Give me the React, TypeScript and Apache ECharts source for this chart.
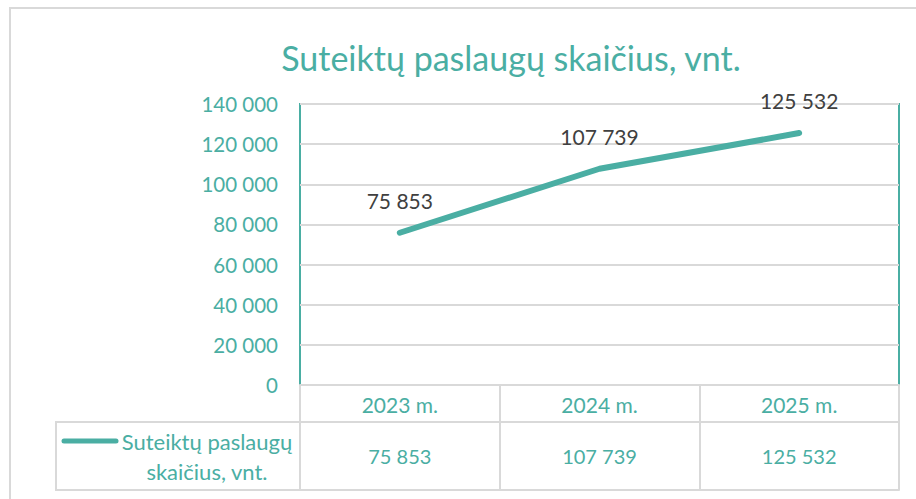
import React, { useEffect, useRef } from "react";
import * as echarts from "echarts";

const categories = ["2023 m.", "2024 m.", "2025 m."];
const values = [75853, 107739, 125532];
const seriesName = "Suteiktų paslaugų skaičius, vnt.";
const yMin = 0;
const yMax = 140000;
const yInterval = 20000;

const TEAL = "#4aaea3";
const GRID = "#d9d9d9";
const FONT = "Lato";

const fmt = (v: number) => String(v).replace(/\B(?=(\d{3})+(?!\d))/g, " ");

export default function App() {
  const ref = useRef<HTMLDivElement>(null);
  useEffect(() => {
    if (!ref.current) return;
    const chart = echarts.init(ref.current, undefined, { renderer: "svg" });
    chart.setOption({
      animation: false,
      backgroundColor: "#ffffff",
      textStyle: { fontFamily: FONT },
      title: {
        text: "Suteiktų paslaugų skaičius, vnt.",
        left: 511,
        top: 40,
        padding: 0,
        textAlign: "center",
        textStyle: { color: TEAL, fontSize: 34, fontWeight: "normal", fontFamily: FONT },
      },
      grid: {
        left: 300,
        right: 17,
        top: 104,
        bottom: 114,
        show: true,
        borderColor: TEAL,
        borderWidth: 2,
        backgroundColor: "transparent",
      },
      xAxis: [
        {
          type: "category",
          data: categories,
          boundaryGap: true,
          position: "bottom",
          axisLine: { show: true, lineStyle: { color: GRID, width: 2 } },
          axisTick: { show: true, length: 105, lineStyle: { color: GRID, width: 2 } },
          axisLabel: { color: TEAL, fontSize: 21, margin: 19, verticalAlign: "middle", fontFamily: FONT },
          splitLine: { show: false },
          z: 10,
        },
        {
          type: "category",
          data: values.map(fmt),
          boundaryGap: true,
          position: "bottom",
          offset: 37,
          axisLine: { show: true, lineStyle: { color: GRID, width: 2 } },
          axisTick: { show: false },
          axisLabel: { color: TEAL, fontSize: 20, margin: 34, verticalAlign: "middle", fontFamily: FONT },
          splitLine: { show: false },
        },
        {
          type: "category",
          data: categories,
          boundaryGap: true,
          position: "bottom",
          offset: 105,
          axisLine: { show: true, lineStyle: { color: GRID, width: 2 } },
          axisTick: { show: false },
          axisLabel: { show: false },
          splitLine: { show: false },
        },
      ],
      yAxis: {
        type: "value",
        min: yMin,
        max: yMax,
        interval: yInterval,
        axisLine: { show: false },
        axisTick: { show: false },
        axisLabel: { color: TEAL, fontSize: 20.5, margin: 22, formatter: (v: number) => fmt(v), fontFamily: FONT },
        splitLine: { show: true, lineStyle: { color: GRID, width: 2 } },
      },
      series: [
        {
          name: seriesName,
          type: "line",
          data: values,
          xAxisIndex: 0,
          showSymbol: true,
          symbol: "circle",
          symbolSize: 0,
          lineStyle: { color: TEAL, width: 6, cap: "round", join: "round" },
          itemStyle: { color: TEAL },
          label: {
            show: true,
            position: "top",
            distance: 22,
            color: "#404040",
            fontSize: 21,
            fontFamily: FONT,
            formatter: (p: any) => fmt(p.value),
          },
          z: 5,
        },
      ],
      graphic: [
        {
          type: "rect",
          shape: { x: 10, y: 8, width: 930, height: 520 },
          style: { fill: "none", stroke: GRID, lineWidth: 2 },
          silent: true,
          z: -10,
        },
        {
          type: "rect",
          shape: { x: 56, y: 422, width: 244, height: 68 },
          style: { fill: "none", stroke: GRID, lineWidth: 2 },
          silent: true,
        },
        {
          type: "line",
          shape: { x1: 64, y1: 441, x2: 116, y2: 441 },
          style: { stroke: TEAL, lineWidth: 5, lineCap: "round" },
          silent: true,
        },
        {
          type: "text",
          x: 207,
          y: 456,
          style: {
            text: "Suteiktų paslaugų\nskaičius, vnt.",
            fill: TEAL,
            fontSize: 22,
            fontFamily: FONT,
            lineHeight: 30,
            align: "center",
            verticalAlign: "middle",
          },
          silent: true,
        },
      ],
    });
    return () => chart.dispose();
  }, []);
  return (
    <div
      ref={ref}
      style={{ position: "fixed", left: 0, top: 0, width: 916, height: 499 }}
    />
  );
}
